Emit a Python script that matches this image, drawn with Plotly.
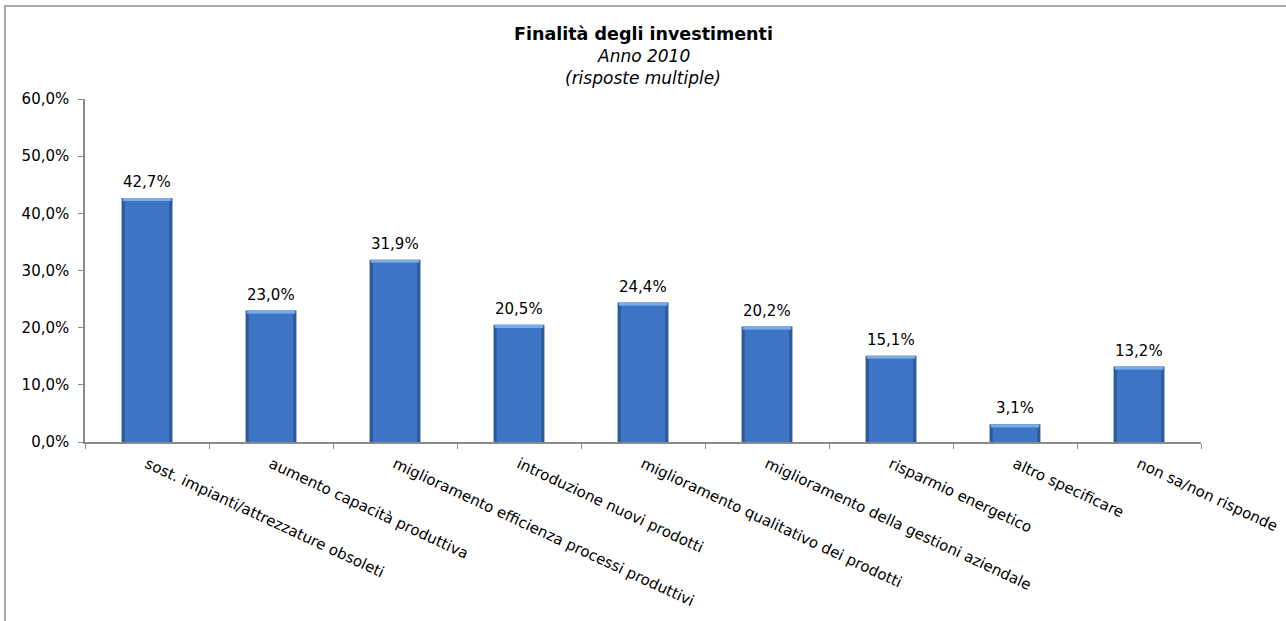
import plotly.graph_objects as go

# Investment purposes, 2010 (multiple answers allowed), percent of respondents
categories = [
    "sost. impianti/attrezzature obsoleti",
    "aumento capacità produttiva",
    "miglioramento efficienza processi produttivi",
    "introduzione nuovi prodotti",
    "miglioramento qualitativo dei prodotti",
    "miglioramento della gestioni aziendale",
    "risparmio energetico",
    "altro specificare",
    "non sa/non risponde",
]
values = [42.7, 23.0, 31.9, 20.5, 24.4, 20.2, 15.1, 3.1, 13.2]
y_ticks = [0, 10, 20, 30, 40, 50, 60]

W, H = 1286, 621
L, R, T, B = 85, 85, 99, 179
plot_w = W - L - R
plot_h = H - T - B

def px_x(px):
    return (px - L) / plot_w

def px_y(py):
    return (H - B - py) / plot_h

font_family = "DejaVu Sans"
cap = 0.55  # height of the lighter bevel at the top of each bar

fig = go.Figure()
# dark outer body
fig.add_trace(go.Bar(
    x=categories, y=values, width=0.41,
    marker=dict(color="#2b5896", line=dict(width=0)),
    hoverinfo="skip", showlegend=False,
))
# lighter inner body
fig.add_trace(go.Bar(
    x=categories, y=[v - cap for v in values], width=0.36,
    marker=dict(color="#3d75c4", line=dict(width=0)),
    hoverinfo="skip", showlegend=False,
))
# bevel highlight on top
fig.add_trace(go.Bar(
    x=categories, y=[cap] * len(values), base=[v - cap for v in values], width=0.39,
    marker=dict(color="#78ade9", line=dict(width=0)),
    hoverinfo="skip", showlegend=False,
))

annotations = []
for c, v in zip(categories, values):
    annotations.append(dict(
        x=c, y=v, xref="x", yref="y",
        text=f"{v:.1f}".replace(".", ",") + "%",
        showarrow=False, yanchor="bottom", yshift=5,
        font=dict(family=font_family, size=15, color="#000000"),
    ))

title_lines = [
    ("<b>Finalità degli investimenti</b>", 34, 17.5),
    ("<i>Anno 2010</i>", 56, 17),
    ("<i>(risposte multiple)</i>", 78, 17),
]
for txt, py, fs in title_lines:
    annotations.append(dict(
        x=0.5, y=px_y(py), xref="paper", yref="paper",
        text=txt, showarrow=False, xanchor="center", yanchor="middle",
        font=dict(family=font_family, size=fs, color="#000000"),
    ))

fig.update_layout(
    width=W, height=H,
    margin=dict(l=L, r=R, t=T, b=B, pad=0, autoexpand=False),
    paper_bgcolor="white", plot_bgcolor="white",
    barmode="overlay", bargap=0.59,
    separators=",.",
    annotations=annotations,
    shapes=[dict(
        type="rect", xref="paper", yref="paper",
        x0=px_x(5), x1=px_x(W + 20), y0=px_y(H + 20), y1=px_y(6),
        line=dict(color="#8c8c8c", width=1.5), fillcolor="rgba(0,0,0,0)",
        layer="below",
    )],
)

fig.update_xaxes(
    showline=True, linecolor="#8a8a8a", linewidth=1.5,
    ticks="outside", tickson="boundaries", ticklen=5, tickcolor="#8a8a8a",
    tickangle=25, showgrid=False, automargin=False, ticklabelstandoff=6,
    tickfont=dict(family=font_family, size=15, color="#000000"),
)
fig.update_yaxes(
    range=[0, 60], tickvals=y_ticks,
    ticktext=[f"{t:.1f}".replace(".", ",") + "%" for t in y_ticks],
    showline=True, linecolor="#8a8a8a", linewidth=1.5,
    ticks="outside", ticklen=5, tickcolor="#8a8a8a",
    showgrid=False, zeroline=False, ticklabelstandoff=6, automargin=False,
    tickfont=dict(family=font_family, size=15, color="#000000"),
)

fig.write_html("out.html")
